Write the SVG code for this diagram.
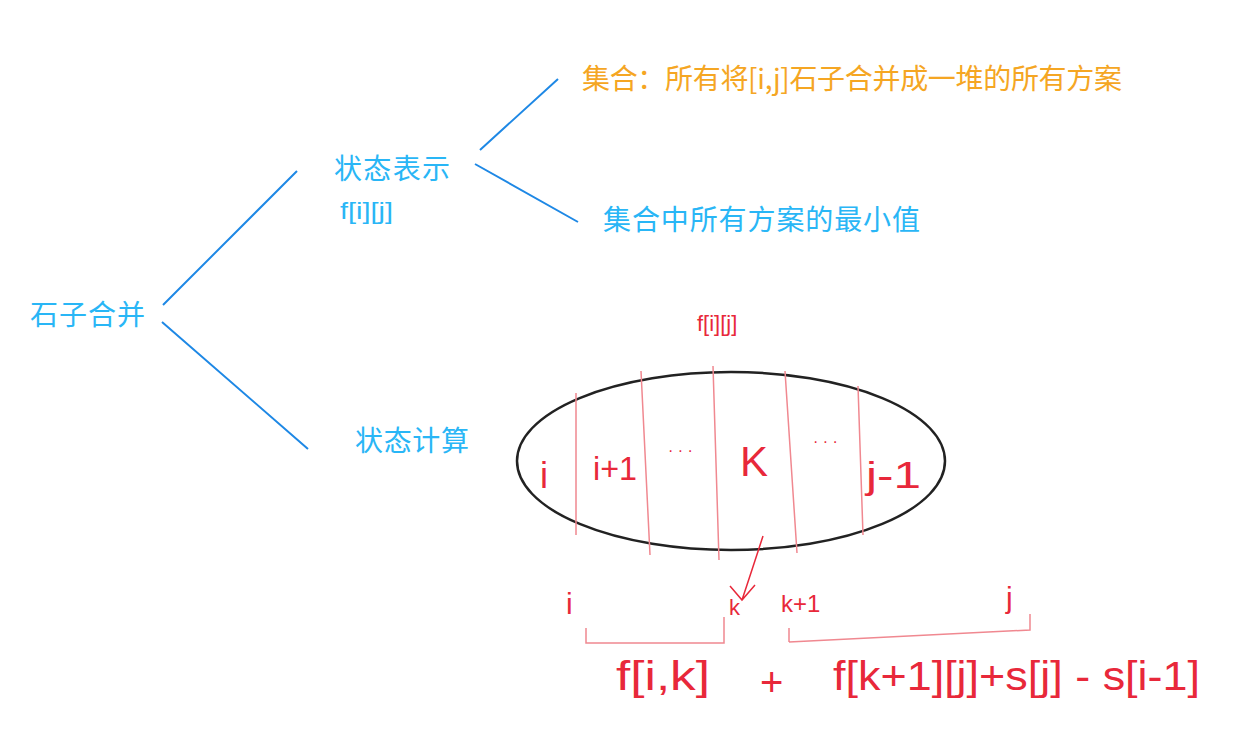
<svg xmlns="http://www.w3.org/2000/svg" width="1237" height="742" viewBox="0 0 1237 742">
<style>
.t{font-family:"Noto Sans CJK SC","Noto Sans",sans-serif;font-size:28px}
.b{fill:#29b6f6}.o{fill:#f5a623}
.r{font-family:"Liberation Sans","Noto Sans",sans-serif;fill:#e8283a}
.bl{stroke:#1e88e5;stroke-width:2;fill:none}
.rl{stroke:#e8283a;stroke-width:1.5;fill:none}
.pl{stroke:#f08890;stroke-width:1.5;fill:none}
</style>
<rect width="1237" height="742" fill="#fff"/>
<g id="connectors">
<path class="bl" d="M163 305 L297 171 M162 322 L308 449 M480 150 L558 79 M475 164 L578 222"/>
</g>
<g id="root"><text class="t b" x="30" y="325" textLength="115">石子合并</text></g>
<g id="state"><text class="t b" x="334" y="179" textLength="116">状态表示</text><text class="b" x="340" y="219" style="font-size:24px;font-family:'Liberation Sans',sans-serif" textLength="53" lengthAdjust="spacingAndGlyphs">f[i][j]</text></g>
<g id="calc"><text class="t b" x="355" y="451" textLength="114">状态计算</text></g>
<g id="set"><text class="t o" x="582" y="89" textLength="540">集合：所有将[i,j]石子合并成一堆的所有方案</text></g>
<g id="attr"><text class="t b" x="603" y="230" textLength="317">集合中所有方案的最小值</text></g>
<g id="sketch">
<text class="r" x="697" y="331" style="font-size:22px">f[i][j]</text>
<ellipse cx="731" cy="461" rx="214" ry="89" fill="none" stroke="#222" stroke-width="2.5"/>
<path class="pl" d="M576 393 L576 535 M641 371 L650 555 M713 366 L719 560 M785 371 L797 553 M858 386 L863 535"/>
<text class="r" x="540" y="488" style="font-size:36px">i</text>
<text class="r" x="593" y="480" style="font-size:34px" textLength="44" lengthAdjust="spacingAndGlyphs">i+1</text>
<text class="r" x="668" y="456" style="font-size:16px">· · ·</text>
<text class="r" x="740" y="476" style="font-size:42px">K</text>
<text class="r" x="813" y="447" style="font-size:16px">· · ·</text>
<text class="r" x="866" y="488" style="font-size:36px" textLength="55" lengthAdjust="spacingAndGlyphs">j-1</text>
<path class="rl" d="M763 536 Q752 570 742 600 M730 586 L742 600 L755 585"/>
<text class="r" x="566" y="614" style="font-size:30px">i</text>
<text class="r" x="729" y="615" style="font-size:22px">k</text>
<text class="r" x="781" y="612" style="font-size:24px">k+1</text>
<text class="r" x="1006" y="608" style="font-size:30px">j</text>
<path class="pl" d="M586 628 L586 643 L724 643 L724 617 M789 642 L789 628 M789 642 L1030 630 L1030 614"/>
<text class="r" x="616" y="690" style="font-size:40px" textLength="94" lengthAdjust="spacingAndGlyphs">f[i,k]</text>
<text class="r" x="760" y="696" style="font-size:40px">+</text>
<text class="r" x="833" y="690" style="font-size:40px" textLength="367" lengthAdjust="spacingAndGlyphs">f[k+1][j]+s[j] - s[i-1]</text>
</g>
</svg>
